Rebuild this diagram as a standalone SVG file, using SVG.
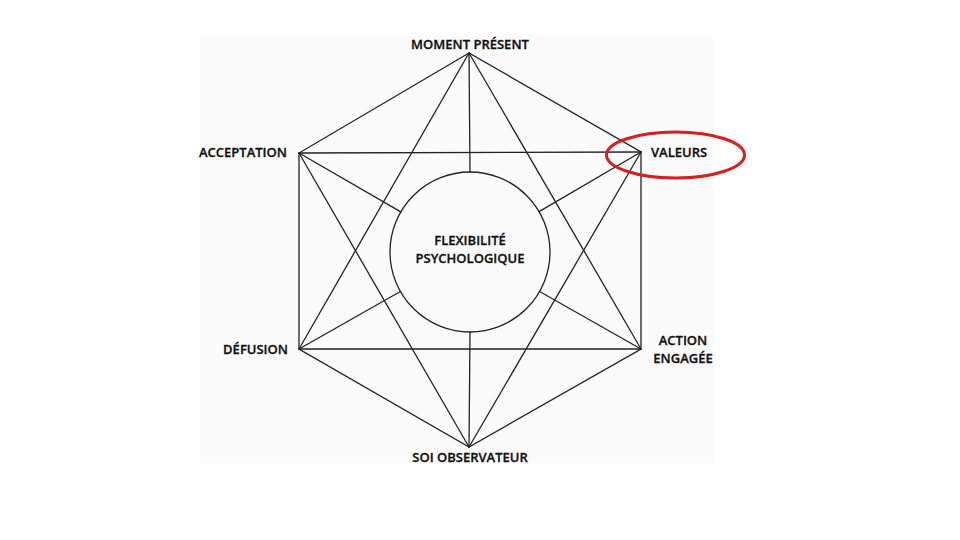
<svg xmlns="http://www.w3.org/2000/svg" width="960" height="540" viewBox="0 0 960 540">
<style>
.lbl{font-family:"Open Sans","Liberation Sans",sans-serif;font-weight:600;font-size:13px;fill:#111;stroke:#111;stroke-width:0.3}
.ln{stroke:#222;stroke-width:1.3;fill:none;stroke-linecap:round}
</style>
<rect x="0" y="0" width="960" height="540" fill="#ffffff"/>
<rect x="200" y="35" width="513" height="428" fill="#fbfbfb"/>
<g id="connectors" class="ln">
<path d="M469 53 L299 153 L299 349 L469 447 L641 349 L641 152 Z"/>
<line x1="299" y1="153" x2="641" y2="152"/>
<line x1="299" y1="349" x2="641" y2="349"/>
<line x1="469" y1="53" x2="299" y2="349"/>
<line x1="469" y1="53" x2="641" y2="349"/>
<line x1="469" y1="447" x2="299" y2="153"/>
<line x1="469" y1="447" x2="641" y2="152"/>
<line x1="469" y1="53" x2="470" y2="172"/>
<line x1="470" y1="332" x2="469" y2="447"/>
<line x1="299" y1="153" x2="400.8" y2="211.9"/>
<line x1="641" y1="152" x2="539.1" y2="211.6"/>
<line x1="299" y1="349" x2="400.4" y2="291.5"/>
<line x1="641" y1="349" x2="539.6" y2="291.5"/>
</g>
<g id="flexibilite">
<circle cx="470" cy="252" r="80" class="ln"/>
<text class="lbl" x="470" y="245" text-anchor="middle">FLEXIBILITÉ</text>
<text class="lbl" x="470" y="262.5" text-anchor="middle">PSYCHOLOGIQUE</text>
</g>
<g id="moment-present"><text class="lbl" x="470" y="48.5" text-anchor="middle">MOMENT PRÉSENT</text></g>
<g id="acceptation"><text class="lbl" x="287" y="157" text-anchor="end">ACCEPTATION</text></g>
<g id="valeurs"><text class="lbl" x="651" y="157">VALEURS</text>
<ellipse cx="675.5" cy="155" rx="69" ry="23" fill="none" stroke="#d81e1e" stroke-width="3"/></g>
<g id="defusion"><text class="lbl" x="288" y="353.5" text-anchor="end">DÉFUSION</text></g>
<g id="action-engagee"><text class="lbl" x="683" y="345" text-anchor="middle">ACTION</text><text class="lbl" x="683" y="362.7" text-anchor="middle">ENGAGÉE</text></g>
<g id="soi-observateur"><text class="lbl" x="470" y="462" text-anchor="middle">SOI OBSERVATEUR</text></g>
</svg>
